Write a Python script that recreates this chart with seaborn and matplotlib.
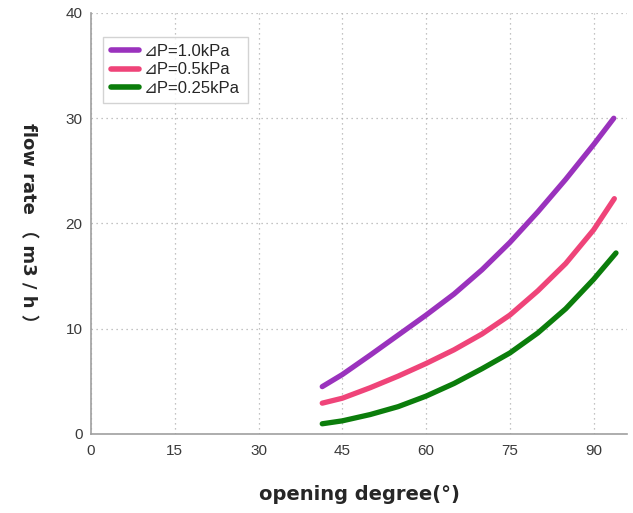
import matplotlib
matplotlib.use("Agg")
import matplotlib.pyplot as plt
import numpy as np
import pandas as pd
import seaborn as sns

# Werte
x_10 = [41.4, 45, 50, 55, 60, 65, 70, 75, 80, 85, 90, 93.6]
y_10 = [4.5, 5.65, 7.5, 9.4, 11.3, 13.3, 15.6, 18.2, 21.1, 24.2, 27.5, 30.0]

x_05 = [41.4, 45, 50, 55, 60, 65, 70, 75, 80, 85, 90, 93.7]
y_05 = [2.93, 3.4, 4.4, 5.5, 6.7, 8.0, 9.5, 11.3, 13.6, 16.2, 19.4, 22.36]

x_025 = [41.4, 45, 50, 55, 60, 65, 70, 75, 80, 85, 90, 94.0]
y_025 = [0.97, 1.25, 1.85, 2.6, 3.6, 4.8, 6.2, 7.7, 9.6, 11.9, 14.7, 17.2]

labels = ["⊿P=1.0kPa", "⊿P=0.5kPa", "⊿P=0.25kPa"]
colors = ["#9a32bd", "#ef4479", "#0b7d0b"]

x_ticks = [0, 15, 30, 45, 60, 75, 90]
y_ticks = [0, 10, 20, 30, 40]

df = pd.concat([
    pd.DataFrame({"x": x_10, "y": y_10, "serie": labels[0]}),
    pd.DataFrame({"x": x_05, "y": y_05, "serie": labels[1]}),
    pd.DataFrame({"x": x_025, "y": y_025, "serie": labels[2]}),
], ignore_index=True)

sns.set_style("white")
plt.rcParams['font.family'] = ['Liberation Sans', 'DejaVu Sans']

fig = plt.figure(figsize=(6.33, 5.13), dpi=100)
ax = fig.add_axes([0.1438, 0.154, 0.847, 0.8207])

sns.lineplot(data=df, x="x", y="y", hue="serie", palette=colors,
             linewidth=3.8, solid_capstyle="round", solid_joinstyle="round",
             sort=False, ax=ax)

ax.set_xlim(0, 96)
ax.set_ylim(0, 40)
ax.set_xticks(x_ticks)
ax.set_yticks(y_ticks)
ax.grid(True, linestyle=(0, (1, 3)), color="#b0b0b0", linewidth=0.9)

for s in ["top", "right"]:
    ax.spines[s].set_visible(False)
for s in ["left", "bottom"]:
    ax.spines[s].set_color("#a0a0a0")
    ax.spines[s].set_linewidth(1.2)

ax.tick_params(axis="both", labelsize=11, colors="#3a3a3a", length=2,
               width=0.8, pad=4)
ax.tick_params(axis="x", pad=5)

ax.set_xlabel("opening degree(°)", fontsize=14, fontweight="bold",
              family=["DejaVu Sans"], labelpad=20)
ax.set_ylabel("flow rate （ m3 / h ）", fontsize=13, fontweight="bold",
              family=["DejaVu Sans", "Noto Sans CJK SC"],
              rotation=270, va="bottom")
ax.yaxis.set_label_coords(-0.135, 0.49)

leg = ax.legend(loc="upper left", bbox_to_anchor=(0.023, 0.944),
                fontsize=12, frameon=True, fancybox=False,
                handlelength=1.7, handletextpad=0.3, labelspacing=0.2,
                borderpad=0.45, borderaxespad=0, title=None)
leg.get_frame().set_edgecolor("#c8c8c8")
leg.get_frame().set_linewidth(1.0)
for line in leg.get_lines():
    line.set_linewidth(4)

fig.savefig("out.png", dpi=100)
